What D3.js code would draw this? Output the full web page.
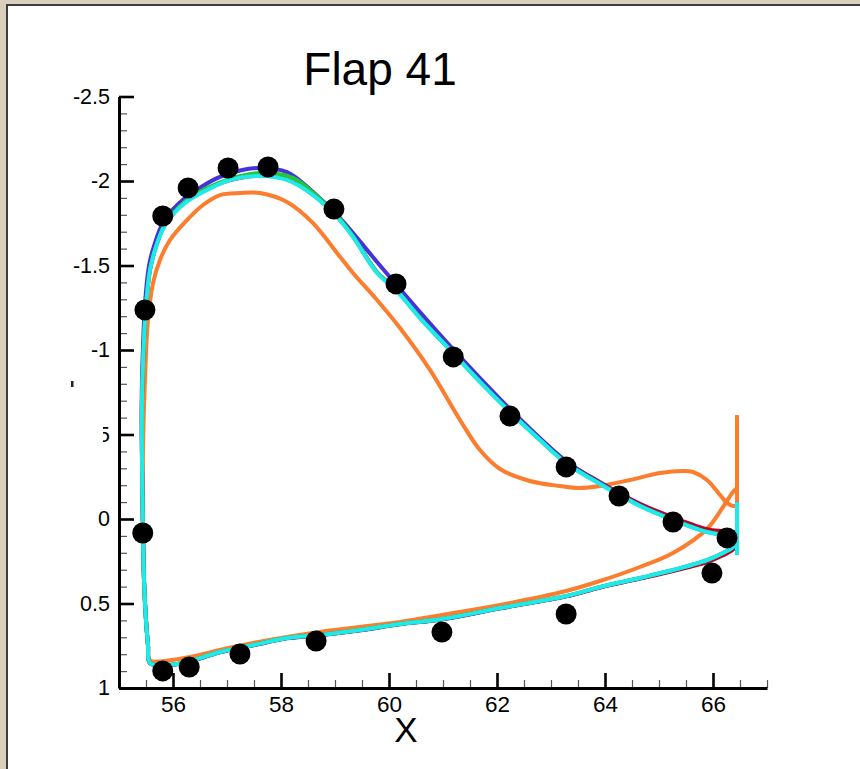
<!DOCTYPE html>
<html>
<head>
<meta charset="utf-8">
<script src="https://cdn.jsdelivr.net/npm/d3@7"></script>
<style>
  html, body { margin: 0; padding: 0; background: #d9d0bc; }
  svg { display: block; }
  text { font-family: "Liberation Sans", Arial, Helvetica, sans-serif; }
</style>
</head>
<body>
<svg id="chart" width="860" height="769"></svg>
<script>
// Experimental pressure taps: x position and Cp
const expX = [55.44, 55.48, 55.81, 56.28, 57.02, 57.76, 58.98, 60.13, 61.19, 62.24, 63.28, 64.26, 65.26, 66.26,
              65.98, 63.28, 60.98, 58.65, 57.24, 56.30, 55.81];
const expCp = [0.083, -1.237, -1.793, -1.959, -2.077, -2.083, -1.834, -1.391, -0.959, -0.609, -0.308, -0.136, 0.018, 0.112,
               0.320, 0.562, 0.669, 0.722, 0.799, 0.876, 0.899];

// Computed Cp distributions, [x, Cp] pairs traced around the flap section
const orangeCurve = [
  [66.444,-0.083],[66.370,-0.077],[66.259,-0.095],[66.130,-0.142],[65.889,-0.231],[65.630,-0.278],
  [65.444,-0.284],[65.019,-0.272],[64.463,-0.231],[63.907,-0.195],[63.537,-0.183],[63.167,-0.195],[62.611,-0.225],
  [62.056,-0.296],[61.685,-0.408],[61.315,-0.586],[60.759,-0.882],[60.204,-1.130],[59.778,-1.296],[59.333,-1.456],
  [59.037,-1.574],[58.593,-1.751],[58.111,-1.876],[57.611,-1.929],[57.241,-1.929],[56.870,-1.917],[56.556,-1.858],
  [56.259,-1.769],[55.944,-1.651],[55.759,-1.533],[55.630,-1.396],[55.537,-1.178],[55.481,-0.823],[55.444,-0.408],
  [55.444,0.065],[55.463,0.361],[55.500,0.598],[55.537,0.746],[55.574,0.837],[55.759,0.843],[56.259,0.820],
  [56.870,0.775],[57.481,0.734],[58.111,0.698],[58.722,0.668],[59.463,0.639],[60.204,0.609],[60.981,0.568],
  [62.056,0.509],[63.278,0.426],[63.907,0.367],[64.648,0.284],[65.259,0.201],[65.889,0.059],[66.185,-0.071],
  [66.370,-0.160],[66.444,-0.183]
];
const orangeBase = [[66.444,-0.615],[66.444,-0.083]];

const redCurve = [
  [66.444,0.150],[66.370,0.180],[66.185,0.215],[65.889,0.255],[65.259,0.308],
  [64.648,0.353],[63.907,0.405],[63.278,0.458],[62.056,0.528],[60.981,0.593],[60.204,0.622],[59.463,0.658],
  [58.722,0.687],[58.111,0.705],[57.481,0.747],[56.870,0.788],[56.259,0.847],[55.889,0.865],[55.574,0.853],
  [55.537,0.746],[55.500,0.598],[55.463,0.361],[55.444,0.065],[55.426,-0.349],[55.426,-0.704],[55.463,-1.060],
  [55.500,-1.268],[55.574,-1.476],[55.667,-1.596],[55.852,-1.744],[56.222,-1.874],[56.593,-1.946],[57.056,-2.005],
  [57.611,-2.032],[58.111,-2.009],[58.593,-1.920],[59.037,-1.790],[59.333,-1.672],[59.778,-1.460],[60.130,-1.360],
  [60.574,-1.193],[61.185,-0.986],[61.685,-0.816],[62.241,-0.640],[62.796,-0.475],[63.278,-0.340],[63.907,-0.218],
  [64.648,-0.090],[65.259,-0.010],[65.889,0.060],[66.185,0.072],[66.444,0.080]
];
const redBase = [[66.444,-0.101],[66.444,0.213]];

const blueCurve = [
  [66.444,0.142],[66.370,0.168],[66.185,0.203],[65.889,0.245],[65.259,0.304],
  [64.648,0.351],[63.907,0.404],[63.278,0.458],[62.056,0.529],[60.981,0.594],[60.204,0.623],[59.463,0.659],
  [58.722,0.688],[58.111,0.706],[57.481,0.748],[56.870,0.789],[56.259,0.848],[55.889,0.866],[55.574,0.854],
  [55.537,0.746],[55.500,0.598],[55.463,0.361],[55.444,0.065],[55.426,-0.349],[55.420,-0.704],[55.450,-1.070],
  [55.485,-1.290],[55.556,-1.500],[55.648,-1.615],[55.833,-1.765],[56.204,-1.895],[56.574,-1.975],[56.870,-2.024],
  [57.241,-2.062],[57.611,-2.077],[58.111,-2.053],[58.593,-1.935],[59.093,-1.781],[59.778,-1.521],[60.574,-1.225],
  [61.185,-1.006],[62.241,-0.651],[63.278,-0.343],[63.907,-0.215],[64.648,-0.083],[65.259,0.002],[65.889,0.075],
  [66.185,0.093],[66.444,0.110]
];
const blueBase = [[66.444,-0.101],[66.444,0.213]];

const greenCurve = [
  [66.444,0.142],[66.370,0.166],[66.185,0.201],[65.889,0.243],[65.259,0.302],
  [64.648,0.349],[63.907,0.402],[63.278,0.456],[62.056,0.527],[60.981,0.592],[60.204,0.621],[59.463,0.657],
  [58.722,0.686],[58.111,0.704],[57.481,0.746],[56.870,0.787],[56.259,0.846],[55.889,0.864],[55.574,0.852],
  [55.537,0.746],[55.500,0.598],[55.463,0.361],[55.444,0.065],[55.426,-0.349],[55.426,-0.704],[55.463,-1.059],
  [55.500,-1.266],[55.574,-1.473],[55.667,-1.592],[55.852,-1.742],[56.222,-1.878],[56.593,-1.952],[57.056,-2.012],
  [57.611,-2.047],[58.222,-2.018],[58.593,-1.930],[59.037,-1.795],[59.333,-1.674],[59.778,-1.460],[60.130,-1.357],
  [60.574,-1.190],[61.185,-0.983],[61.685,-0.812],[62.241,-0.634],[62.796,-0.468],[63.278,-0.332],[63.907,-0.208],
  [64.648,-0.078],[65.259,0.005],[65.889,0.076],[66.185,0.094],[66.444,0.111]
];
const greenBase = [[66.444,-0.101],[66.444,0.213]];

const cyanCurve = [
  [66.444,0.142],[66.370,0.166],[66.185,0.201],[65.889,0.243],[65.259,0.302],
  [64.648,0.349],[63.907,0.402],[63.278,0.456],[62.056,0.527],[60.981,0.592],[60.204,0.621],[59.463,0.657],
  [58.722,0.686],[58.111,0.704],[57.481,0.746],[56.870,0.787],[56.259,0.846],[55.889,0.864],[55.574,0.852],
  [55.537,0.746],[55.500,0.598],[55.463,0.361],[55.444,0.065],[55.426,-0.349],[55.426,-0.704],[55.463,-1.059],
  [55.500,-1.266],[55.574,-1.473],[55.667,-1.592],[55.852,-1.740],[56.222,-1.870],[56.593,-1.941],[57.056,-2.006],
  [57.611,-2.030],[58.111,-2.006],[58.593,-1.917],[59.037,-1.787],[59.333,-1.669],[59.778,-1.456],[60.130,-1.355],
  [60.574,-1.189],[61.185,-0.982],[61.685,-0.811],[62.241,-0.633],[62.796,-0.467],[63.278,-0.331],[63.907,-0.207],
  [64.648,-0.077],[65.259,0.006],[65.889,0.077],[66.185,0.095],[66.444,0.112]
];
const cyanBase = [[66.444,-0.101],[66.444,0.213]];

// Axis tick values
const xMajorTicks = [56, 58, 60, 62, 64, 66];
const xMinorTicks = [55.5, 56.5, 57, 57.5, 58.5, 59, 59.5, 60.5, 61, 61.5, 62.5, 63, 63.5, 64.5, 65, 65.5, 66.5, 67];
const yMajorTicks = [-2.5, -2, -1.5, -1, -0.5, 0, 0.5, 1];
const yMinorTicks = [-2.4, -2.3, -2.2, -2.1, -1.9, -1.8, -1.7, -1.6, -1.4, -1.3, -1.2, -1.1, -0.9, -0.8, -0.7, -0.6,
                     -0.4, -0.3, -0.2, -0.1, 0.1, 0.2, 0.3, 0.4, 0.6, 0.7, 0.8, 0.9];
const yTickLabels = ["-2.5", "-2", "-1.5", "-1", "-0.5", "0", "0.5", "1"];

const svg = d3.select("#chart");

// Panel: white page with a dark frame edge on the top and left
svg.append("rect").attr("x", 0).attr("y", 0).attr("width", 860).attr("height", 769).attr("fill", "#d9d0bc");
svg.append("rect").attr("x", 7).attr("y", 5).attr("width", 860).attr("height", 770).attr("fill", "#ffffff");
svg.append("path").attr("d", "M7,775 L7,5 L860,5").attr("fill", "none").attr("stroke", "#3c3c3c").attr("stroke-width", 2);

const x = d3.scaleLinear().domain([55, 67]).range([119, 767]);
const y = d3.scaleLinear().domain([-2.5, 1]).range([96.5, 688]);

// Title and axis title
svg.append("text").attr("x", 380).attr("y", 85).attr("text-anchor", "middle")
  .attr("font-size", 46).attr("fill", "#000").text("Flap 41");
svg.append("text").attr("x", 406).attr("y", 742).attr("text-anchor", "middle")
  .attr("font-size", 35).attr("fill", "#000").text("X");

// Curves: smooth section traces plus the straight trailing-edge base segments
const smooth = d3.line().curve(d3.curveCatmullRom.alpha(0.5)).x(d => x(d[0])).y(d => y(d[1]));
const straight = d3.line().x(d => x(d[0])).y(d => y(d[1]));
const curves = [
  { data: orangeCurve, base: orangeBase, color: "#fb7d2d" },
  { data: redCurve, base: redBase, color: "#c4001c" },
  { data: blueCurve, base: blueBase, color: "#4532d8" },
  { data: greenCurve, base: greenBase, color: "#25c43a" },
  { data: cyanCurve, base: cyanBase, color: "#1feaea" }
];
const cg = svg.append("g").selectAll("g").data(curves).join("g");
cg.append("path")
  .attr("d", d => straight(d.base))
  .attr("fill", "none").attr("stroke", d => d.color).attr("stroke-width", 4);
cg.append("path")
  .attr("d", d => smooth(d.data))
  .attr("fill", "none")
  .attr("stroke", d => d.color)
  .attr("stroke-width", 4)
  .attr("stroke-linejoin", "round")
  .attr("stroke-linecap", "round");

// Experimental points
svg.append("g").selectAll("circle").data(expX.map((v, i) => [v, expCp[i]])).join("circle")
  .attr("cx", d => x(d[0])).attr("cy", d => y(d[1])).attr("r", 10.5).attr("fill", "#000");

// Y axis (ticks point into the plot)
const yAxis = svg.append("g").attr("transform", `translate(${x(55)},0)`);
yAxis.call(d3.axisLeft(y).tickValues(yMinorTicks).tickSize(-8).tickSizeOuter(0).tickFormat(""));
yAxis.selectAll(".tick line").attr("stroke", "#555").attr("stroke-width", 1.2);
yAxis.select(".domain").remove();
const yAxisMajor = svg.append("g").attr("transform", `translate(${x(55)},0)`);
yAxisMajor.call(d3.axisLeft(y).tickValues(yMajorTicks).tickSize(-15).tickSizeOuter(0).tickPadding(9)
  .tickFormat((d, i) => yTickLabels[i]));
yAxisMajor.selectAll(".tick line").attr("stroke", "#000").attr("stroke-width", 2.6);
yAxisMajor.selectAll(".tick text").attr("font-size", 21.5).attr("font-family", "Liberation Sans, Arial, sans-serif").attr("fill", "#000");
yAxisMajor.select(".domain").attr("stroke", "#000").attr("stroke-width", 3);

// X axis (ticks point into the plot)
const xAxis = svg.append("g").attr("transform", `translate(0,${y(1)})`);
xAxis.call(d3.axisBottom(x).tickValues(xMinorTicks).tickSize(-8).tickSizeOuter(0).tickFormat(""));
xAxis.selectAll(".tick line").attr("stroke", "#555").attr("stroke-width", 1.2);
xAxis.select(".domain").remove();
const xAxisMajor = svg.append("g").attr("transform", `translate(0,${y(1)})`);
xAxisMajor.call(d3.axisBottom(x).tickValues(xMajorTicks).tickSize(-15).tickSizeOuter(0).tickPadding(8)
  .tickFormat(d3.format("d")));
xAxisMajor.selectAll(".tick line").attr("stroke", "#000").attr("stroke-width", 2.6);
xAxisMajor.selectAll(".tick text").attr("font-size", 22.5).attr("font-family", "Liberation Sans, Arial, sans-serif").attr("fill", "#000");
xAxisMajor.select(".domain").attr("stroke", "#000").attr("stroke-width", 3);

// Blank y-axis title box, overlapping part of the -0.5 label
svg.append("rect").attr("x", 50).attr("y", 360).attr("width", 53).attr("height", 100).attr("fill", "#ffffff");
svg.append("rect").attr("x", 71).attr("y", 381).attr("width", 2.5).attr("height", 6).attr("fill", "#222");
</script>
</body>
</html>
